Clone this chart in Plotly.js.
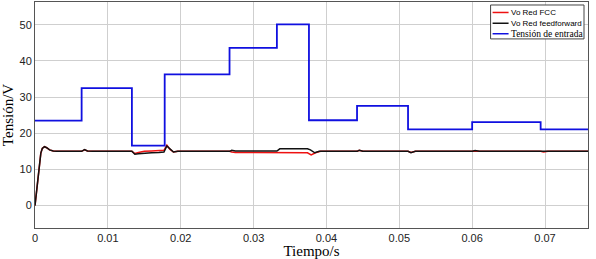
<!DOCTYPE html>
<html>
<head>
<meta charset="utf-8">
<script src="https://cdn.plot.ly/plotly-3.0.1.min.js"></script>
<style>html,body{margin:0;padding:0;background:#fff;}#chart{width:596px;height:259px;}</style>
</head>
<body>
<div id="chart"></div>
<script>
// Input voltage (step changes)
var tIn = [0, 0.0064, 0.0133, 0.0178, 0.0267, 0.0332, 0.0376, 0.0442, 0.0512, 0.0600, 0.0694, 0.076];
var vIn = [23.5, 32.5, 16.6, 36.3, 43.6, 50.1, 23.6, 27.6, 21.1, 23.1, 21.1, 21.1];

// Output, feedforward controller
var tFF = [0, 0.0002, 0.0004, 0.0006, 0.0008, 0.0010, 0.0013, 0.0016, 0.0020, 0.0025, 0.0030, 0.0064, 0.0068, 0.0072, 0.0080, 0.0133, 0.0137, 0.0142, 0.0150, 0.0160, 0.0170, 0.0177, 0.0181, 0.0185, 0.0190, 0.0196, 0.0267, 0.0270, 0.0275, 0.0332, 0.0336, 0.0374, 0.0378, 0.0384, 0.0390, 0.0442, 0.0445, 0.0450, 0.0512, 0.0516, 0.0522, 0.0600, 0.0604, 0.0610, 0.0694, 0.0698, 0.0704, 0.076];
var vFF = [0, 3.5, 8, 12, 14.5, 15.8, 16.3, 16.0, 15.4, 15.1, 15.0, 15.0, 15.5, 15.1, 15.0, 15.0, 14.2, 14.3, 14.5, 14.6, 14.7, 14.8, 16.5, 15.7, 14.8, 15.0, 15.0, 15.3, 15.1, 15.1, 15.7, 15.7, 15.4, 14.6, 15.0, 15.0, 15.3, 15.0, 15.0, 14.6, 15.0, 15.0, 15.2, 15.0, 15.0, 14.8, 15.0, 15.0];

// Output, FCC controller
var tFCC = [0, 0.0002, 0.0004, 0.0006, 0.0008, 0.0010, 0.0013, 0.0016, 0.0020, 0.0025, 0.0030, 0.0064, 0.0068, 0.0072, 0.0080, 0.0133, 0.0137, 0.0142, 0.0150, 0.0160, 0.0170, 0.0177, 0.0181, 0.0185, 0.0190, 0.0196, 0.0267, 0.0270, 0.0275, 0.0332, 0.0336, 0.0374, 0.0379, 0.0385, 0.0392, 0.0442, 0.0445, 0.0450, 0.0512, 0.0516, 0.0522, 0.0600, 0.0604, 0.0610, 0.0694, 0.0698, 0.0704, 0.076];
var vFCC = [0, 3.5, 8, 12, 14.5, 15.8, 16.3, 16.0, 15.4, 15.1, 15.0, 15.0, 15.4, 15.1, 15.0, 15.0, 14.4, 14.7, 15.0, 15.1, 15.2, 15.3, 16.7, 15.6, 14.8, 15.0, 15.0, 14.8, 14.7, 14.7, 14.6, 14.6, 14.0, 14.6, 15.0, 15.0, 15.3, 15.0, 15.0, 14.7, 15.0, 15.0, 15.1, 15.0, 15.0, 14.8, 15.0, 15.0];

var seriesNames = ["Vo Red FCC", "Vo Red feedforward", "Tensión de entrada"];
var seriesColors = ["#ee1111", "#111111", "#1010e0"];

var xTicks = [0, 0.01, 0.02, 0.03, 0.04, 0.05, 0.06, 0.07];
var xTickText = ["0", "0.01", "0.02", "0.03", "0.04", "0.05", "0.06", "0.07"];
var yTicks = [0, 10, 20, 30, 40, 50];

var sans = "Liberation Sans, Arial, sans-serif";
var serif = "Liberation Serif, Times New Roman, serif";

var traces = [
  {x: tFCC, y: vFCC, mode: "lines", name: seriesNames[0],
   line: {color: seriesColors[0], width: 1.5}},
  {x: tFF, y: vFF, mode: "lines", name: seriesNames[1],
   line: {color: seriesColors[1], width: 1.5}},
  {x: tIn, y: vIn, mode: "lines", name: seriesNames[2],
   line: {color: seriesColors[2], width: 1.8, shape: "hv"}}
];

// compact legend box drawn in paper coordinates
var M = {l: 35, r: 7.5, t: 2, b: 30.5};
var PW = 596 - M.l - M.r, PH = 259 - M.t - M.b;
function px(x) { return (x - M.l) / PW; }
function py(y) { return (259 - M.b - y) / PH; }

var shapes = [{type: "rect", xref: "paper", yref: "paper",
  x0: px(491), x1: px(584.5), y0: py(39), y1: py(5),
  fillcolor: "#fff", line: {color: "#444", width: 1}, layer: "above"}];
var annotations = [];
var rowY = [12.5, 23.3, 33.8];
var rowFont = [{family: sans, size: 8, color: "#000"}, {family: sans, size: 8, color: "#000"}, {family: serif, size: 9.5, color: "#000"}];
for (var i = 0; i < 3; i++) {
  shapes.push({type: "line", xref: "paper", yref: "paper",
    x0: px(493), x1: px(509), y0: py(rowY[i]), y1: py(rowY[i]),
    line: {color: seriesColors[i], width: 1.5}, layer: "above"});
  annotations.push({xref: "paper", yref: "paper", x: px(509.5), y: py(rowY[i]),
    xanchor: "left", yanchor: "middle", showarrow: false, text: seriesNames[i],
    font: rowFont[i]});
}

var layout = {
  width: 596, height: 259,
  margin: M,
  paper_bgcolor: "#fff", plot_bgcolor: "#fff",
  showlegend: false,
  shapes: shapes, annotations: annotations,
  xaxis: {range: [0, 0.0759], tickvals: xTicks, ticktext: xTickText,
    showgrid: true, gridcolor: "#cfcfcf", gridwidth: 1,
    zeroline: false, showline: true, linecolor: "#555", linewidth: 1, mirror: true,
    ticks: "", tickfont: {family: sans, size: 11, color: "#222"},
    title: {text: "Tiempo/s", font: {family: serif, size: 15, color: "#000"}, standoff: 2}},
  yaxis: {range: [-6.2, 56.3], tickvals: yTicks,
    showgrid: true, gridcolor: "#cfcfcf", gridwidth: 1,
    zeroline: false, showline: true, linecolor: "#555", linewidth: 1, mirror: true,
    ticks: "", tickfont: {family: sans, size: 11, color: "#222"},
    title: {text: "Tensión/V", font: {family: serif, size: 15, color: "#000"}, standoff: 4}}
};

Plotly.newPlot("chart", traces, layout, {displayModeBar: false, staticPlot: true});
</script>
</body>
</html>
